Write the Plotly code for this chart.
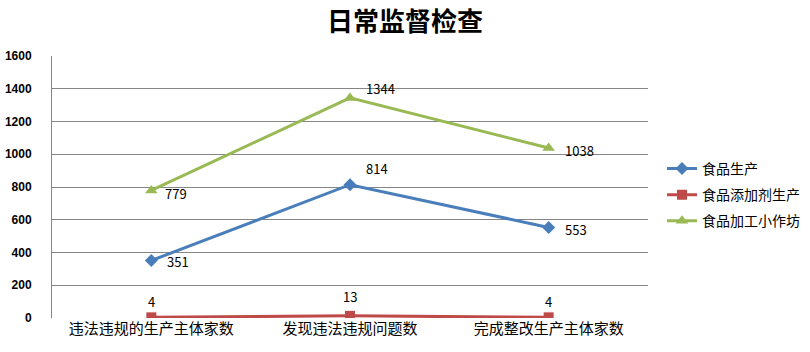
import plotly.graph_objects as go

categories = ["违法违规的生产主体家数", "发现违法违规问题数", "完成整改生产主体家数"]
food_production = [351, 814, 553]
additive_production = [4, 13, 4]
small_workshops = [779, 1344, 1038]
series_names = ["食品生产", "食品添加剂生产", "食品加工小作坊"]
y_ticks = [0, 200, 400, 600, 800, 1000, 1200, 1400, 1600]

font_cjk = "Noto Sans CJK SC, sans-serif"

fig = go.Figure()
specs = [
    (food_production, series_names[0], "#4A7EBB", "diamond", 10),
    (additive_production, series_names[1], "#BE4B48", "square", 10),
    (small_workshops, series_names[2], "#98B954", "triangle-up", 11),
]
for vals, name, color, sym, sz in specs:
    fig.add_trace(go.Scatter(
        x=categories, y=vals, name=name, mode="lines+markers", legendgroup=name,
        line=dict(color=color, width=3), marker=dict(symbol=sym, size=sz, color=color),
    ))

# data labels (offsets per reference)
label_offsets = {
    0: [(14, -1), (14, 16), (14, -2)],
    1: [(None, 16), (None, 19), (None, 16)],
    2: [(12, -3), (14, 9), (14, -2)],
}
for si, (vals, name, color, sym, sz) in enumerate(specs):
    for ci, v in enumerate(vals):
        dx, dy = label_offsets[si][ci]
        fig.add_annotation(
            x=categories[ci], y=v, text=str(v), showarrow=False,
            xanchor="center" if dx is None else "left", yanchor="middle",
            xshift=0 if dx is None else dx, yshift=dy,
            font=dict(family=font_cjk, size=13, color="#000"),
        )

fig.update_layout(
    width=810, height=352,
    margin=dict(l=52, r=162, t=56, b=34, autoexpand=False),
    paper_bgcolor="white", plot_bgcolor="white",
    title=dict(text="<b>日常监督检查</b>", x=0.5, xanchor="center", xref="container",
               y=1 - 22 / 352, yanchor="middle", yref="container",
               font=dict(family=font_cjk, size=26, color="#000")),
    legend=dict(x=662 / 810, xanchor="left", xref="container", y=0.47, yanchor="middle",
                font=dict(family=font_cjk, size=14, color="#000"),
                bgcolor="rgba(0,0,0,0)", traceorder="grouped", tracegroupgap=5),
    showlegend=True,
)
fig.update_xaxes(type="category", range=[-0.5, 2.5], showgrid=False,
                 showline=False, ticks="", tickfont=dict(family=font_cjk, size=15, color="#000"))
fig.update_yaxes(range=[0, 1600], tickvals=y_ticks, showgrid=True, gridcolor="#868686", gridwidth=1,
                 showline=True, linecolor="#868686", linewidth=1, zeroline=False,
                 ticks="", ticklabelstandoff=17,
                 tickfont=dict(family="Liberation Sans, Arial, sans-serif", size=12, color="#000", weight="bold"))

fig.write_html("out.html")
